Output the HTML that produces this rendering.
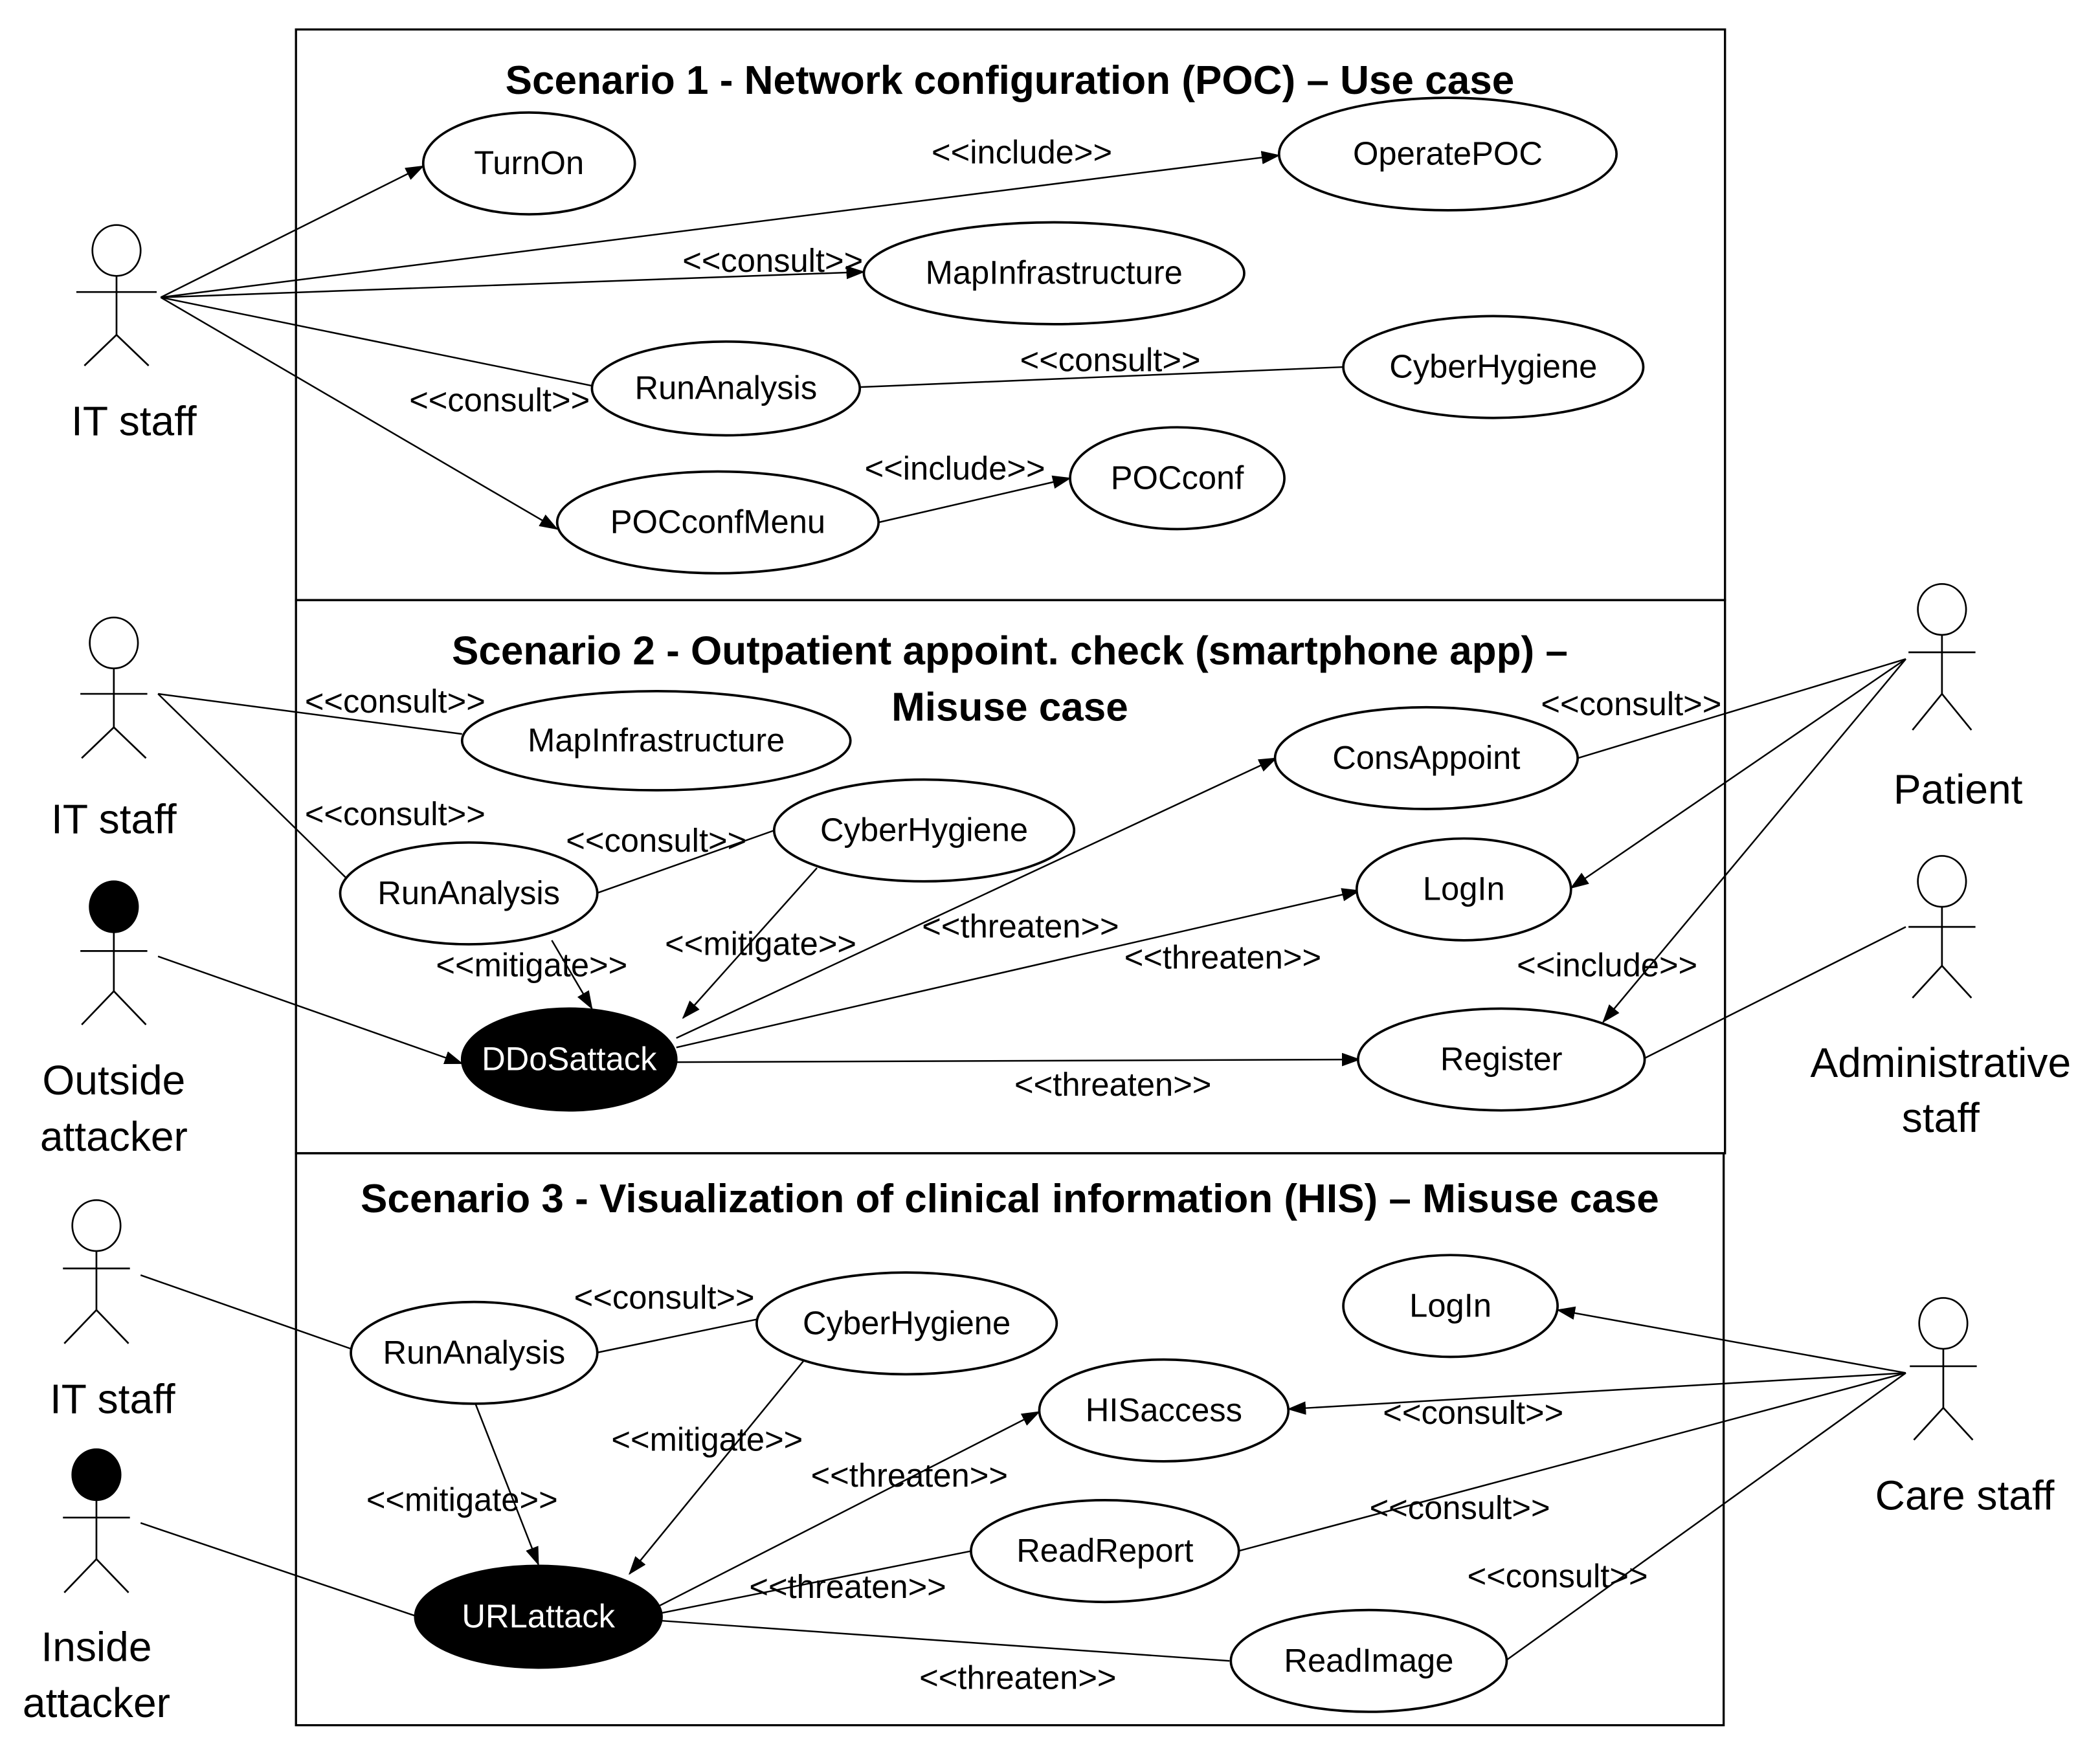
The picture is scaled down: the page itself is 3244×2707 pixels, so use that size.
<!DOCTYPE html>
<html><head><meta charset="utf-8"><style>
html,body{margin:0;padding:0;background:#fff}
svg{display:block}
text{font-family:"Liberation Sans",sans-serif;fill:#000}
.l{font-size:24.5px}
.t{font-size:30px;font-weight:bold}
.a{font-size:31px}
</style></head><body>
<svg width="3244" height="2707" viewBox="0 0 1568 1308" preserveAspectRatio="none" xmlns="http://www.w3.org/2000/svg">
<defs><marker id="m" markerWidth="14" markerHeight="10" refX="13" refY="5" orient="auto" markerUnits="userSpaceOnUse"><path d="M0,0 L14,5 L0,10 z" fill="#000"/></marker></defs>
<g fill="none" stroke="#000" stroke-width="1.6">
<rect x="221" y="22" width="1067" height="426"/>
<rect x="221" y="448" width="1067" height="413"/>
<rect x="221" y="861" width="1066" height="427"/>
</g>
<g stroke="#000" stroke-width="1.2" fill="none">
<line x1="120" y1="222" x2="316" y2="124" marker-end="url(#m)"/>
<line x1="120" y1="222" x2="955" y2="116" marker-end="url(#m)"/>
<line x1="120" y1="222" x2="645" y2="203" marker-end="url(#m)"/>
<line x1="120" y1="222" x2="442" y2="288"/>
<line x1="120" y1="222" x2="416" y2="395" marker-end="url(#m)"/>
<line x1="642" y1="289" x2="1003" y2="274"/>
<line x1="656" y1="390" x2="799" y2="357" marker-end="url(#m)"/>
<line x1="118" y1="518" x2="345" y2="548"/>
<line x1="118" y1="518" x2="258" y2="655"/>
<line x1="445" y1="667" x2="578" y2="620"/>
<line x1="412" y1="702" x2="442" y2="753" marker-end="url(#m)"/>
<line x1="610" y1="648" x2="510" y2="760" marker-end="url(#m)"/>
<line x1="118" y1="714" x2="345" y2="794" marker-end="url(#m)"/>
<line x1="505" y1="775" x2="953" y2="566" marker-end="url(#m)"/>
<line x1="505" y1="782" x2="1015" y2="665" marker-end="url(#m)"/>
<line x1="505" y1="793" x2="1015" y2="791" marker-end="url(#m)"/>
<line x1="1423" y1="492" x2="1178" y2="566"/>
<line x1="1423" y1="492" x2="1173" y2="663" marker-end="url(#m)"/>
<line x1="1423" y1="492" x2="1197" y2="763" marker-end="url(#m)"/>
<line x1="1423" y1="692" x2="1228" y2="790"/>
<line x1="105" y1="952" x2="265" y2="1008"/>
<line x1="445" y1="1010" x2="565" y2="985"/>
<line x1="355" y1="1048" x2="402" y2="1168" marker-end="url(#m)"/>
<line x1="600" y1="1016" x2="470" y2="1175" marker-end="url(#m)"/>
<line x1="105" y1="1137" x2="312" y2="1207"/>
<line x1="490" y1="1200" x2="776" y2="1054" marker-end="url(#m)"/>
<line x1="490" y1="1205" x2="725" y2="1158"/>
<line x1="494" y1="1210" x2="918" y2="1240"/>
<line x1="1423" y1="1025" x2="1163" y2="978" marker-end="url(#m)"/>
<line x1="1423" y1="1025" x2="962" y2="1052" marker-end="url(#m)"/>
<line x1="1423" y1="1025" x2="917" y2="1160"/>
<line x1="1423" y1="1025" x2="1124" y2="1240"/>
</g>
<g stroke="#000" stroke-width="1.8" fill="#fff">
<ellipse cx="395" cy="122" rx="79" ry="38"/>
<ellipse cx="1081" cy="115" rx="126" ry="42"/>
<ellipse cx="787" cy="204" rx="142" ry="38"/>
<ellipse cx="542" cy="290" rx="100" ry="35"/>
<ellipse cx="1115" cy="274" rx="112" ry="38"/>
<ellipse cx="879" cy="357" rx="80" ry="38"/>
<ellipse cx="536" cy="390" rx="120" ry="38"/>
<ellipse cx="490" cy="553" rx="145" ry="37"/>
<ellipse cx="1065" cy="566" rx="113" ry="38"/>
<ellipse cx="690" cy="620" rx="112" ry="38"/>
<ellipse cx="350" cy="667" rx="96" ry="38"/>
<ellipse cx="1093" cy="664" rx="80" ry="38"/>
<ellipse cx="425" cy="791" rx="80" ry="38" fill="#000"/>
<ellipse cx="1121" cy="791" rx="107" ry="38"/>
<ellipse cx="1083" cy="975" rx="80" ry="38"/>
<ellipse cx="677" cy="988" rx="112" ry="38"/>
<ellipse cx="354" cy="1010" rx="92" ry="38"/>
<ellipse cx="869" cy="1053" rx="93" ry="38"/>
<ellipse cx="825" cy="1158" rx="100" ry="38"/>
<ellipse cx="402" cy="1207" rx="92" ry="38" fill="#000"/>
<ellipse cx="1022" cy="1240" rx="103" ry="38"/>
</g>
<g stroke="#000" stroke-width="1.3" fill="#fff">
<g transform="translate(87,0)"><ellipse cx="0" cy="187" rx="18" ry="19"/><line x1="0" y1="206" x2="0" y2="250"/><line x1="-30" y1="218" x2="30" y2="218"/><line x1="0" y1="250" x2="-24" y2="273"/><line x1="0" y1="250" x2="24" y2="273"/></g>
<g transform="translate(85,293)"><ellipse cx="0" cy="187" rx="18" ry="19"/><line x1="0" y1="206" x2="0" y2="250"/><line x1="-25" y1="225" x2="25" y2="225"/><line x1="0" y1="250" x2="-24" y2="273"/><line x1="0" y1="250" x2="24" y2="273"/></g>
<g transform="translate(85,490)"><ellipse cx="0" cy="187" rx="18" ry="19" fill="#000"/><line x1="0" y1="206" x2="0" y2="250"/><line x1="-25" y1="220" x2="25" y2="220"/><line x1="0" y1="250" x2="-24" y2="275"/><line x1="0" y1="250" x2="24" y2="275"/></g>
<g transform="translate(1450,268)"><ellipse cx="0" cy="187" rx="18" ry="19"/><line x1="0" y1="206" x2="0" y2="250"/><line x1="-25" y1="219" x2="25" y2="219"/><line x1="0" y1="250" x2="-22" y2="277"/><line x1="0" y1="250" x2="22" y2="277"/></g>
<g transform="translate(1450,471)"><ellipse cx="0" cy="187" rx="18" ry="19"/><line x1="0" y1="206" x2="0" y2="250"/><line x1="-25" y1="221" x2="25" y2="221"/><line x1="0" y1="250" x2="-22" y2="274"/><line x1="0" y1="250" x2="22" y2="274"/></g>
<g transform="translate(72,728)"><ellipse cx="0" cy="187" rx="18" ry="19"/><line x1="0" y1="206" x2="0" y2="250"/><line x1="-25" y1="219" x2="25" y2="219"/><line x1="0" y1="250" x2="-24" y2="275"/><line x1="0" y1="250" x2="24" y2="275"/></g>
<g transform="translate(72,914)"><ellipse cx="0" cy="187" rx="18" ry="19" fill="#000"/><line x1="0" y1="206" x2="0" y2="250"/><line x1="-25" y1="219" x2="25" y2="219"/><line x1="0" y1="250" x2="-24" y2="275"/><line x1="0" y1="250" x2="24" y2="275"/></g>
<g transform="translate(1451,801)"><ellipse cx="0" cy="187" rx="18" ry="19"/><line x1="0" y1="206" x2="0" y2="250"/><line x1="-25" y1="219" x2="25" y2="219"/><line x1="0" y1="250" x2="-22" y2="274"/><line x1="0" y1="250" x2="22" y2="274"/></g>
</g>
<g text-anchor="middle">
<text class="t" x="754" y="70">Scenario 1 - Network configuration (POC) – Use case</text>
<text class="t" x="754" y="496">Scenario 2 - Outpatient appoint. check (smartphone app) –</text>
<text class="t" x="754" y="538">Misuse case</text>
<text class="t" x="754" y="905">Scenario 3 - Visualization of clinical information (HIS) – Misuse case</text>
<g class="a">
<text x="100" y="325">IT staff</text>
<text x="85" y="622">IT staff</text>
<text x="85" y="817">Outside</text><text x="85" y="859">attacker</text>
<text x="1462" y="600">Patient</text>
<text x="1449" y="804">Administrative</text><text x="1449" y="845">staff</text>
<text x="84" y="1055">IT staff</text>
<text x="72" y="1240">Inside</text><text x="72" y="1282">attacker</text>
<text x="1467" y="1127">Care staff</text>
</g>
<g class="l">
<text x="395" y="130">TurnOn</text>
<text x="1081" y="123">OperatePOC</text>
<text x="787" y="212">MapInfrastructure</text>
<text x="542" y="298">RunAnalysis</text>
<text x="1115" y="282">CyberHygiene</text>
<text x="879" y="365">POCconf</text>
<text x="536" y="398">POCconfMenu</text>
<text x="490" y="561">MapInfrastructure</text>
<text x="1065" y="574">ConsAppoint</text>
<text x="690" y="628">CyberHygiene</text>
<text x="350" y="675">RunAnalysis</text>
<text x="1093" y="672">LogIn</text>
<text x="425" y="799" style="fill:#fff">DDoSattack</text>
<text x="1121" y="799">Register</text>
<text x="1083" y="983">LogIn</text>
<text x="677" y="996">CyberHygiene</text>
<text x="354" y="1018">RunAnalysis</text>
<text x="869" y="1061">HISaccess</text>
<text x="825" y="1166">ReadReport</text>
<text x="402" y="1215" style="fill:#fff">URLattack</text>
<text x="1022" y="1248">ReadImage</text>
<text x="763" y="122">&lt;&lt;include&gt;&gt;</text>
<text x="577" y="203">&lt;&lt;consult&gt;&gt;</text>
<text x="373" y="307">&lt;&lt;consult&gt;&gt;</text>
<text x="829" y="277">&lt;&lt;consult&gt;&gt;</text>
<text x="713" y="358">&lt;&lt;include&gt;&gt;</text>
<text x="295" y="532">&lt;&lt;consult&gt;&gt;</text>
<text x="295" y="616">&lt;&lt;consult&gt;&gt;</text>
<text x="490" y="636">&lt;&lt;consult&gt;&gt;</text>
<text x="397" y="729">&lt;&lt;mitigate&gt;&gt;</text>
<text x="568" y="713">&lt;&lt;mitigate&gt;&gt;</text>
<text x="762" y="700">&lt;&lt;threaten&gt;&gt;</text>
<text x="913" y="723">&lt;&lt;threaten&gt;&gt;</text>
<text x="831" y="818">&lt;&lt;threaten&gt;&gt;</text>
<text x="1218" y="534">&lt;&lt;consult&gt;&gt;</text>
<text x="1200" y="729">&lt;&lt;include&gt;&gt;</text>
<text x="496" y="977">&lt;&lt;consult&gt;&gt;</text>
<text x="345" y="1128">&lt;&lt;mitigate&gt;&gt;</text>
<text x="528" y="1083">&lt;&lt;mitigate&gt;&gt;</text>
<text x="679" y="1110">&lt;&lt;threaten&gt;&gt;</text>
<text x="633" y="1193">&lt;&lt;threaten&gt;&gt;</text>
<text x="760" y="1261">&lt;&lt;threaten&gt;&gt;</text>
<text x="1100" y="1063">&lt;&lt;consult&gt;&gt;</text>
<text x="1090" y="1134">&lt;&lt;consult&gt;&gt;</text>
<text x="1163" y="1185">&lt;&lt;consult&gt;&gt;</text>
</g>
</g>
</svg>
</body></html>
